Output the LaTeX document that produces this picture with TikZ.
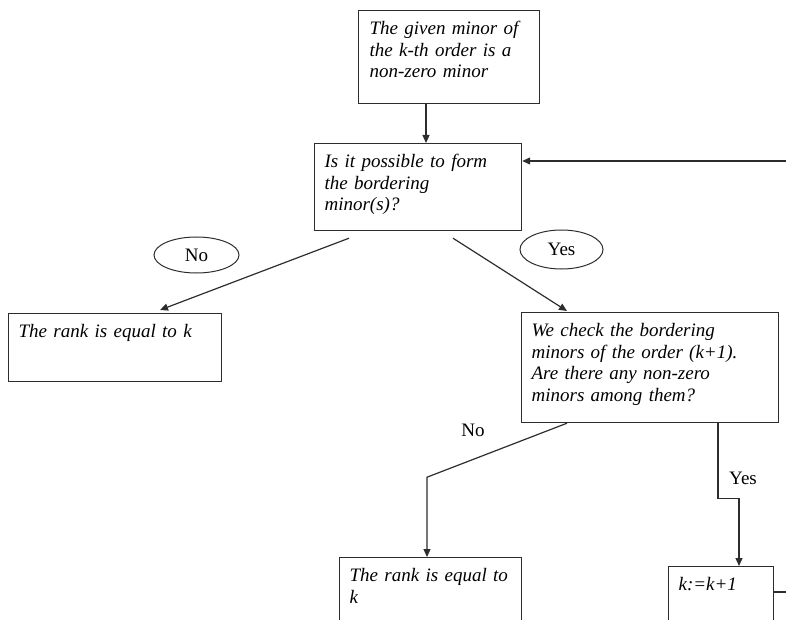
\documentclass[tikz,border=0pt]{standalone}
\usepackage{fontspec}
\setmainfont{Liberation Serif}
\usetikzlibrary{arrows.meta,positioning,calc,shapes.geometric}
\definecolor{chartLine}{RGB}{45,45,45}
\newcommand\boxfont{\fontsize{19}{21.5}\selectfont\itshape}
\newcommand\tagfont{\fontsize{19}{21.5}\selectfont}

\begin{document}
\begin{tikzpicture}[
  x=1pt, y=-1pt,
  box/.style={draw=chartLine, line width=1.2pt, rectangle, anchor=north west,
              align=left, inner xsep=10pt, inner ysep=0pt, text height=24pt,
              font=\boxfont},
  tagnode/.style={ellipse, draw=chartLine, line width=1pt, inner sep=0pt,
                  font=\tagfont},
  conn/.style={chartLine, line width=1.2pt},
  arr/.style={conn, -{Triangle[length=8pt,width=7pt]}},
]
\useasboundingbox (0,0) rectangle (786,620);
\clip (0,0) rectangle (786,620);

%%──────────────────────────────────────────────────────────────────
%% Boxes (top-left corner, width = text width + 20, height = 24 + depth)
%%──────────────────────────────────────────────────────────────────
\node[box, text width=159pt, text depth=69pt, inner xsep=11pt] (given) at (358,10)
     {The given minor of\\the k-th order is a\\non-zero minor};
\node[box, text width=187pt, text depth=63pt] (possible) at (314,143)
     {Is it possible to form\\the bordering\\minor(s)?};
\node[box, text width=193pt, text depth=44pt] (rankL) at (8,313)
     {The rank is equal to k};
\node[box, text width=237pt, text depth=86pt] (check) at (521,312)
     {We check the bordering\\minors of the order (k+1).\\Are there any non-zero\\minors among them?};
\node[box, text width=162pt, text depth=76pt] (rankB) at (339,557)
     {The rank is equal to\\k};
\node[box, text width=85pt, text depth=76pt] (incr) at (668,566)
     {k:=k+1};

%%──────────────────────────────────────────────────────────────────
%% Branch tags
%%──────────────────────────────────────────────────────────────────
\node[tagnode, minimum width=85pt, minimum height=36pt] (notag) at (196.5,255) {No};
\node[tagnode, minimum width=83pt, minimum height=39pt] (yestag) at (561.5,249.5) {Yes};
\node[font=\tagfont] (nolbl) at (473,430) {No};
\node[font=\tagfont] (yeslbl) at (743,478) {Yes};

%%──────────────────────────────────────────────────────────────────
%% Connectors
%%──────────────────────────────────────────────────────────────────
% start -> question
\coordinate (givenout) at ($(given.south west)+(68,0)$);
\draw[arr] (givenout) -- (givenout |- possible.north);

% question -> No / Yes
\draw[arr] ($(possible.south west)+(35,7)$) -- ($(rankL.north west)+(152,-3)$);
\draw[arr] ($(possible.south west)+(139,7)$) -- ($(check.north west)+(46,-1)$);

% check -> No
\draw[arr] ($(check.south west)+(46,0)$) -- ++(-140,54) coordinate (nobend)
     -- (nobend |- rankB.north);

% check -> Yes
\draw[arr] ($(check.south west)+(197,0)$) -- ++(0,75) -- ++(21,0) coordinate (yesbend)
     -- (yesbend |- incr.north);

% loop back (comes in from the right)
\coordinate (loopin) at (786,161);
\draw[arr] (loopin) -- (loopin -| possible.east);
\coordinate (loopout) at (786,592);
\draw[conn] (loopout -| incr.east) -- (loopout);

\end{tikzpicture}
\end{document}
